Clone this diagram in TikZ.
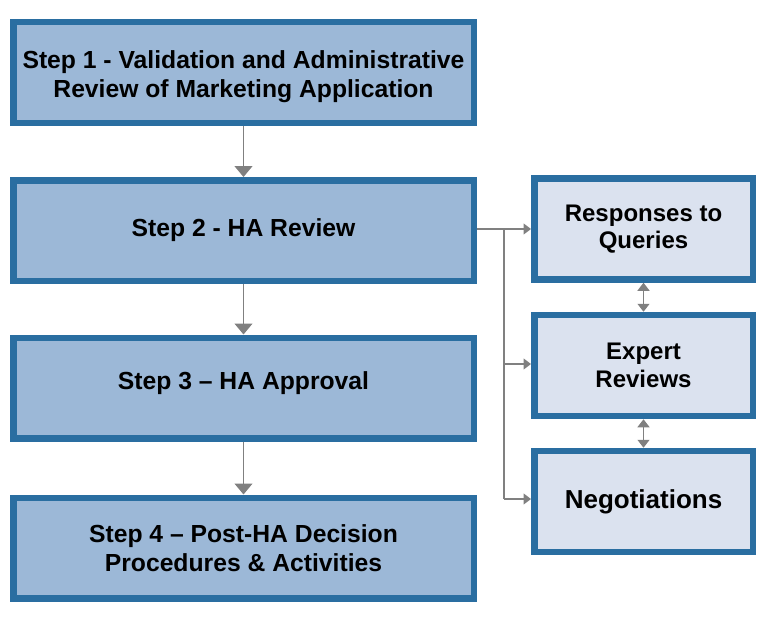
\documentclass[tikz,border=0pt]{standalone}
\usepackage{fontspec}
\setmainfont{Liberation Sans}
\usetikzlibrary{arrows.meta}
\definecolor{bordblue}{RGB}{42,110,161}
\definecolor{fillmain}{RGB}{156,184,215}
\definecolor{fillside}{RGB}{219,226,239}
\definecolor{conngray}{RGB}{128,128,128}
\begin{document}
\begin{tikzpicture}[x=1pt,y=-1pt,
  mainbox/.style={draw=bordblue, line width=6.5pt, fill=fillmain, inner sep=0pt,
    minimum width=460.5pt, minimum height=100.5pt, align=center,
    font=\bfseries\fontsize{24.7}{29}\selectfont},
  sidebox/.style={draw=bordblue, line width=6.5pt, fill=fillside, inner sep=0pt,
    minimum width=218.5pt, minimum height=101pt, align=center,
    font=\bfseries\fontsize{24}{27.5}\selectfont},
  conn/.style={draw=conngray, line width=1.3pt},
  downarrow/.style={conn, -{Triangle[width=18pt,length=11pt]}},
  sidearrow/.style={conn, -{Triangle[width=11pt,length=7.5pt]}},
  dblarrow/.style={conn, {Triangle[width=12pt,length=8pt]}-{Triangle[width=12pt,length=8pt]}}
]
\useasboundingbox (0,0) rectangle (771,618);

\node[mainbox] (b1) at (243.5,72.5) {\raisebox{-5pt}[\height][\depth]{\begin{tabular}{@{}c@{}}Step 1 - Validation and Administrative\\Review of Marketing Application\end{tabular}}};
\node[mainbox] (b2) at (243.5,230.5) {Step 2 - HA Review};
\node[mainbox] (b3) at (243.5,388) {\raisebox{5pt}[\height][\depth]{Step 3 -- HA Approval}};
\node[mainbox] (b4) at (243.5,548) {\raisebox{-3pt}[\height][\depth]{\begin{tabular}{@{}c@{}}Step 4 -- Post-HA Decision\\Procedures \& Activities\end{tabular}}};

\node[sidebox] (r1) at (643.5,229) {Responses to\\Queries};
\node[sidebox] (r2) at (643.5,365.5) {Expert\\Reviews};
\node[sidebox, font=\bfseries\fontsize{26}{30}\selectfont] (r3) at (643.5,501.5) {Negotiations};

\draw[downarrow] (b1.south) -- (b2.north);
\draw[downarrow] (b2.south) -- (b3.north);
\draw[downarrow] (b3.south) -- (b4.north);

\coordinate (j1) at (504,229);
\coordinate (j2) at (504,364);
\coordinate (j3) at (504,499);
\draw[conn] (r1.west -| b2.east) -- (j1) -- (j3);
\draw[sidearrow] (j1) -- (r1.west);
\draw[sidearrow] (j2) -- (j2 -| r2.west);
\draw[sidearrow] (j3) -- (j3 -| r3.west);

\draw[dblarrow] (r1.south) -- (r2.north);
\draw[dblarrow] (r2.south) -- (r3.north);
\end{tikzpicture}
\end{document}
